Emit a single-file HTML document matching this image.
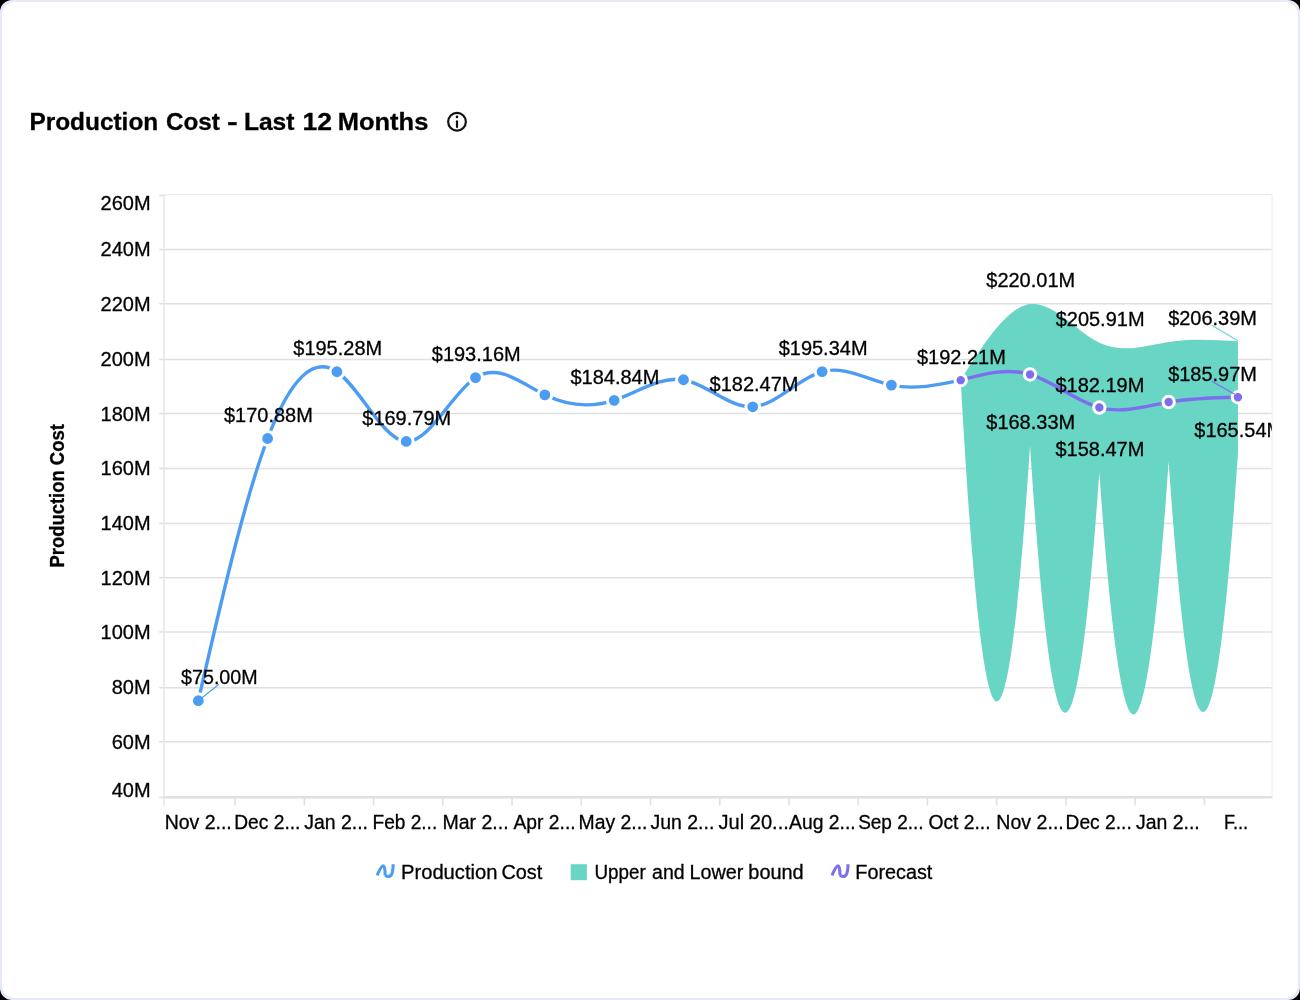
<!DOCTYPE html>
<html><head><meta charset="utf-8"><title>Production Cost - Last 12 Months</title>
<style>
html,body{margin:0;padding:0;background:#000;}
body{width:1300px;height:1000px;overflow:hidden;font-family:"Liberation Sans",sans-serif;}
.card{position:absolute;left:0;top:0;width:1300px;height:1000px;border-radius:12px;background:#e6e9f8;}
.inner{position:absolute;left:2px;top:2px;width:1296px;height:996px;border-radius:13px;background:#fff;}
svg{position:absolute;left:0;top:0;will-change:transform;}
text{font-family:"Liberation Sans",sans-serif;fill:#000;stroke:#000;stroke-width:0.3px;}
</style></head><body>
<div class="card"><div class="inner"></div></div>
<svg width="1300" height="1000" viewBox="0 0 1300 1000">

<text x="29.41" y="130.40" font-size="24.3" textLength="128.81" lengthAdjust="spacingAndGlyphs" font-weight="bold">Production</text>
<text x="165.93" y="130.40" font-size="24.3" textLength="53.87" lengthAdjust="spacingAndGlyphs" font-weight="bold">Cost</text>
<text x="227.01" y="130.40" font-size="24.3" textLength="10.71" lengthAdjust="spacingAndGlyphs" font-weight="bold">-</text>
<text x="243.90" y="130.40" font-size="24.3" textLength="50.57" lengthAdjust="spacingAndGlyphs" font-weight="bold">Last</text>
<text x="302.47" y="130.40" font-size="24.3" textLength="29.55" lengthAdjust="spacingAndGlyphs" font-weight="bold">12</text>
<text x="337.74" y="130.40" font-size="24.3" textLength="90.57" lengthAdjust="spacingAndGlyphs" font-weight="bold">Months</text>
<circle cx="457" cy="121.8" r="8.85" fill="none" stroke="#111" stroke-width="2.2"/>
<circle cx="457" cy="116.9" r="1.3" fill="#111"/><line x1="457" y1="121.3" x2="457" y2="127.1" stroke="#111" stroke-width="2.2" stroke-linecap="round"/>
<line x1="164.00" y1="194.56" x2="1272.10" y2="194.56" stroke="#e9e9e9" stroke-width="1.3"/>
<line x1="164.00" y1="249.60" x2="1272.10" y2="249.60" stroke="#e0e0e0" stroke-width="1.5"/>
<line x1="164.00" y1="303.70" x2="1272.10" y2="303.70" stroke="#e0e0e0" stroke-width="1.5"/>
<line x1="164.00" y1="359.45" x2="1272.10" y2="359.45" stroke="#e0e0e0" stroke-width="1.5"/>
<line x1="164.00" y1="413.60" x2="1272.10" y2="413.60" stroke="#e0e0e0" stroke-width="1.5"/>
<line x1="164.00" y1="468.40" x2="1272.10" y2="468.40" stroke="#e0e0e0" stroke-width="1.5"/>
<line x1="164.00" y1="523.40" x2="1272.10" y2="523.40" stroke="#e0e0e0" stroke-width="1.5"/>
<line x1="164.00" y1="577.70" x2="1272.10" y2="577.70" stroke="#e0e0e0" stroke-width="1.5"/>
<line x1="164.00" y1="631.90" x2="1272.10" y2="631.90" stroke="#e0e0e0" stroke-width="1.5"/>
<line x1="164.00" y1="687.70" x2="1272.10" y2="687.70" stroke="#e0e0e0" stroke-width="1.5"/>
<line x1="164.00" y1="741.70" x2="1272.10" y2="741.70" stroke="#e0e0e0" stroke-width="1.5"/>
<line x1="164.00" y1="796.85" x2="1272.10" y2="796.85" stroke="#e0e0e0" stroke-width="1.5"/>
<line x1="159.20" y1="195.46" x2="164.00" y2="195.46" stroke="#e0e0e0" stroke-width="1.6"/>
<line x1="159.20" y1="249.60" x2="164.00" y2="249.60" stroke="#e0e0e0" stroke-width="1.6"/>
<line x1="159.20" y1="303.70" x2="164.00" y2="303.70" stroke="#e0e0e0" stroke-width="1.6"/>
<line x1="159.20" y1="359.45" x2="164.00" y2="359.45" stroke="#e0e0e0" stroke-width="1.6"/>
<line x1="159.20" y1="413.60" x2="164.00" y2="413.60" stroke="#e0e0e0" stroke-width="1.6"/>
<line x1="159.20" y1="468.40" x2="164.00" y2="468.40" stroke="#e0e0e0" stroke-width="1.6"/>
<line x1="159.20" y1="523.40" x2="164.00" y2="523.40" stroke="#e0e0e0" stroke-width="1.6"/>
<line x1="159.20" y1="577.70" x2="164.00" y2="577.70" stroke="#e0e0e0" stroke-width="1.6"/>
<line x1="159.20" y1="631.90" x2="164.00" y2="631.90" stroke="#e0e0e0" stroke-width="1.6"/>
<line x1="159.20" y1="687.70" x2="164.00" y2="687.70" stroke="#e0e0e0" stroke-width="1.6"/>
<line x1="159.20" y1="741.70" x2="164.00" y2="741.70" stroke="#e0e0e0" stroke-width="1.6"/>
<line x1="159.20" y1="797.40" x2="164.00" y2="797.40" stroke="#e0e0e0" stroke-width="1.6"/>
<line x1="164.0" y1="193.96" x2="164.0" y2="805.4" stroke="#e6e6e6" stroke-width="1.5"/>
<line x1="1272.1" y1="194.56" x2="1272.1" y2="797.0" stroke="#efefef" stroke-width="1.2"/>
<line x1="164.0" y1="797.8" x2="1272.6" y2="797.8" stroke="#e0e0e0" stroke-width="1.6"/>
<line x1="235.13" y1="797.0" x2="235.13" y2="805.4" stroke="#e0e0e0" stroke-width="1.6"/>
<line x1="304.36" y1="797.0" x2="304.36" y2="805.4" stroke="#e0e0e0" stroke-width="1.6"/>
<line x1="373.59" y1="797.0" x2="373.59" y2="805.4" stroke="#e0e0e0" stroke-width="1.6"/>
<line x1="442.82" y1="797.0" x2="442.82" y2="805.4" stroke="#e0e0e0" stroke-width="1.6"/>
<line x1="512.05" y1="797.0" x2="512.05" y2="805.4" stroke="#e0e0e0" stroke-width="1.6"/>
<line x1="581.28" y1="797.0" x2="581.28" y2="805.4" stroke="#e0e0e0" stroke-width="1.6"/>
<line x1="650.51" y1="797.0" x2="650.51" y2="805.4" stroke="#e0e0e0" stroke-width="1.6"/>
<line x1="719.74" y1="797.0" x2="719.74" y2="805.4" stroke="#e0e0e0" stroke-width="1.6"/>
<line x1="788.97" y1="797.0" x2="788.97" y2="805.4" stroke="#e0e0e0" stroke-width="1.6"/>
<line x1="858.20" y1="797.0" x2="858.20" y2="805.4" stroke="#e0e0e0" stroke-width="1.6"/>
<line x1="927.43" y1="797.0" x2="927.43" y2="805.4" stroke="#e0e0e0" stroke-width="1.6"/>
<line x1="996.66" y1="797.0" x2="996.66" y2="805.4" stroke="#e0e0e0" stroke-width="1.6"/>
<line x1="1065.89" y1="797.0" x2="1065.89" y2="805.4" stroke="#e0e0e0" stroke-width="1.6"/>
<line x1="1135.12" y1="797.0" x2="1135.12" y2="805.4" stroke="#e0e0e0" stroke-width="1.6"/>
<line x1="1204.35" y1="797.0" x2="1204.35" y2="805.4" stroke="#e0e0e0" stroke-width="1.6"/>
<text x="100.60" y="209.50" font-size="20.0" textLength="50.03" lengthAdjust="spacingAndGlyphs">260M</text>
<text x="100.60" y="256.45" font-size="20.0" textLength="50.03" lengthAdjust="spacingAndGlyphs">240M</text>
<text x="100.60" y="311.15" font-size="20.0" textLength="50.03" lengthAdjust="spacingAndGlyphs">220M</text>
<text x="100.60" y="365.85" font-size="20.0" textLength="50.03" lengthAdjust="spacingAndGlyphs">200M</text>
<text x="100.60" y="420.55" font-size="20.0" textLength="50.03" lengthAdjust="spacingAndGlyphs">180M</text>
<text x="100.60" y="475.25" font-size="20.0" textLength="50.03" lengthAdjust="spacingAndGlyphs">160M</text>
<text x="100.60" y="529.95" font-size="20.0" textLength="50.03" lengthAdjust="spacingAndGlyphs">140M</text>
<text x="100.60" y="584.65" font-size="20.0" textLength="50.03" lengthAdjust="spacingAndGlyphs">120M</text>
<text x="100.60" y="639.35" font-size="20.0" textLength="50.03" lengthAdjust="spacingAndGlyphs">100M</text>
<text x="111.70" y="694.05" font-size="20.0" textLength="38.91" lengthAdjust="spacingAndGlyphs">80M</text>
<text x="111.70" y="748.75" font-size="20.0" textLength="38.91" lengthAdjust="spacingAndGlyphs">60M</text>
<text x="111.70" y="796.90" font-size="20.0" textLength="38.91" lengthAdjust="spacingAndGlyphs">40M</text>
<text transform="translate(64,567.60) rotate(-90)" font-size="19.4" font-weight="bold" textLength="143.43" lengthAdjust="spacingAndGlyphs">Production Cost</text>
<text x="164.64" y="828.50" font-size="20.0" textLength="67.13" lengthAdjust="spacingAndGlyphs">Nov 2...</text>
<text x="234.26" y="828.50" font-size="20.0" textLength="66.18" lengthAdjust="spacingAndGlyphs">Dec 2...</text>
<text x="304.21" y="828.50" font-size="20.0" textLength="63.84" lengthAdjust="spacingAndGlyphs">Jan 2...</text>
<text x="372.57" y="828.50" font-size="20.0" textLength="64.65" lengthAdjust="spacingAndGlyphs">Feb 2...</text>
<text x="442.44" y="828.50" font-size="20.0" textLength="66.21" lengthAdjust="spacingAndGlyphs">Mar 2...</text>
<text x="513.50" y="828.50" font-size="20.0" textLength="62.10" lengthAdjust="spacingAndGlyphs">Apr 2...</text>
<text x="578.55" y="828.50" font-size="20.0" textLength="68.93" lengthAdjust="spacingAndGlyphs">May 2...</text>
<text x="650.51" y="828.50" font-size="20.0" textLength="63.84" lengthAdjust="spacingAndGlyphs">Jun 2...</text>
<text x="718.60" y="828.50" font-size="20.0" textLength="70.25" lengthAdjust="spacingAndGlyphs">Jul 20...</text>
<text x="789.10" y="828.50" font-size="20.0" textLength="66.57" lengthAdjust="spacingAndGlyphs">Aug 2...</text>
<text x="858.14" y="828.50" font-size="20.0" textLength="65.50" lengthAdjust="spacingAndGlyphs">Sep 2...</text>
<text x="928.43" y="828.50" font-size="20.0" textLength="62.17" lengthAdjust="spacingAndGlyphs">Oct 2...</text>
<text x="996.33" y="828.50" font-size="20.0" textLength="67.44" lengthAdjust="spacingAndGlyphs">Nov 2...</text>
<text x="1065.56" y="828.50" font-size="20.0" textLength="66.18" lengthAdjust="spacingAndGlyphs">Dec 2...</text>
<text x="1135.91" y="828.50" font-size="20.0" textLength="63.84" lengthAdjust="spacingAndGlyphs">Jan 2...</text>
<text x="1223.95" y="828.50" font-size="20.0" textLength="24.15" lengthAdjust="spacingAndGlyphs">F...</text>
<path d="M960.71,380.16 C983.81 343.64 1006.92 307.13 1030.02 304.12 C1053.12 301.12 1076.23 331.63 1099.33 342.69 C1122.43 353.74 1145.54 345.35 1168.64 341.89 C1191.74 338.43 1214.85 339.90 1237.95 341.37 L1237.95,453.10 C1214.85,797.05 1191.74,797.05 1168.64,461.14 C1145.54,797.05 1122.43,797.05 1099.33,472.43 C1076.23,797.05 1053.12,797.05 1030.02,445.47 C1006.92,797.05 983.81,797.05 960.71,380.16 Z" fill="#69d5c5"/>
<path d="M198.30,700.72 C221.40 600.12 244.51 499.51 267.61 438.49 C290.71 377.48 313.82 356.07 336.92 371.76 C360.02 387.45 383.13 440.25 406.23 441.47 C429.33 442.70 452.44 392.35 475.54 377.56 C498.64 362.77 521.75 383.54 544.85 394.82 C567.95 406.09 591.06 407.86 614.16 400.31 C637.26 392.77 660.37 375.91 683.47 379.77 C706.57 383.64 729.68 408.23 752.78 406.79 C775.88 405.36 798.99 377.90 822.09 371.60 C845.19 365.29 868.30 380.15 891.40 385.11 C914.50 390.06 937.61 385.11 960.71 380.16" fill="none" stroke="#4b9cf2" stroke-width="3.4"/>
<path d="M960.71,380.16 C983.81 373.86 1006.92 367.56 1030.02 374.44 C1053.12 381.32 1076.23 401.37 1099.33 407.56 C1122.43 413.76 1145.54 406.10 1168.64 402.06 C1191.74 398.03 1214.85 397.63 1237.95 397.22" fill="none" stroke="#7b6ff0" stroke-width="3.4"/>
<circle cx="198.30" cy="700.72" r="6.9" fill="#4b9cf2" stroke="#fff" stroke-width="3"/>
<circle cx="267.61" cy="438.49" r="6.9" fill="#4b9cf2" stroke="#fff" stroke-width="3"/>
<circle cx="336.92" cy="371.76" r="6.9" fill="#4b9cf2" stroke="#fff" stroke-width="3"/>
<circle cx="406.23" cy="441.47" r="6.9" fill="#4b9cf2" stroke="#fff" stroke-width="3"/>
<circle cx="475.54" cy="377.56" r="6.9" fill="#4b9cf2" stroke="#fff" stroke-width="3"/>
<circle cx="544.85" cy="394.82" r="6.9" fill="#4b9cf2" stroke="#fff" stroke-width="3"/>
<circle cx="614.16" cy="400.31" r="6.9" fill="#4b9cf2" stroke="#fff" stroke-width="3"/>
<circle cx="683.47" cy="379.77" r="6.9" fill="#4b9cf2" stroke="#fff" stroke-width="3"/>
<circle cx="752.78" cy="406.79" r="6.9" fill="#4b9cf2" stroke="#fff" stroke-width="3"/>
<circle cx="822.09" cy="371.60" r="6.9" fill="#4b9cf2" stroke="#fff" stroke-width="3"/>
<circle cx="891.40" cy="385.11" r="6.9" fill="#4b9cf2" stroke="#fff" stroke-width="3"/>
<circle cx="960.71" cy="380.16" r="5.7" fill="#7b6ff0" stroke="#fff" stroke-width="3"/>
<circle cx="1030.02" cy="374.44" r="5.7" fill="#7b6ff0" stroke="#fff" stroke-width="3"/>
<circle cx="1099.33" cy="407.56" r="5.7" fill="#7b6ff0" stroke="#fff" stroke-width="3"/>
<circle cx="1168.64" cy="402.06" r="5.7" fill="#7b6ff0" stroke="#fff" stroke-width="3"/>
<circle cx="1237.95" cy="397.22" r="5.7" fill="#7b6ff0" stroke="#fff" stroke-width="3"/>
<text x="181.05" y="684.30" font-size="20.0" textLength="76.60" lengthAdjust="spacingAndGlyphs">$75.00M</text>
<text x="224.00" y="421.60" font-size="20.0" textLength="88.85" lengthAdjust="spacingAndGlyphs">$170.88M</text>
<text x="293.30" y="355.40" font-size="20.0" textLength="88.85" lengthAdjust="spacingAndGlyphs">$195.28M</text>
<text x="362.30" y="425.40" font-size="20.0" textLength="88.85" lengthAdjust="spacingAndGlyphs">$169.79M</text>
<text x="431.80" y="361.40" font-size="20.0" textLength="88.85" lengthAdjust="spacingAndGlyphs">$193.16M</text>
<text x="570.50" y="384.40" font-size="20.0" textLength="88.85" lengthAdjust="spacingAndGlyphs">$184.84M</text>
<text x="709.60" y="390.90" font-size="20.0" textLength="88.85" lengthAdjust="spacingAndGlyphs">$182.47M</text>
<text x="778.70" y="355.40" font-size="20.0" textLength="88.85" lengthAdjust="spacingAndGlyphs">$195.34M</text>
<text x="916.95" y="363.90" font-size="20.0" textLength="88.85" lengthAdjust="spacingAndGlyphs">$192.21M</text>
<text x="986.30" y="287.20" font-size="20.0" textLength="88.85" lengthAdjust="spacingAndGlyphs">$220.01M</text>
<text x="1055.70" y="325.80" font-size="20.0" textLength="88.85" lengthAdjust="spacingAndGlyphs">$205.91M</text>
<text x="1168.15" y="324.80" font-size="20.0" textLength="88.85" lengthAdjust="spacingAndGlyphs">$206.39M</text>
<text x="1055.50" y="391.60" font-size="20.0" textLength="88.85" lengthAdjust="spacingAndGlyphs">$182.19M</text>
<text x="1168.15" y="380.60" font-size="20.0" textLength="88.85" lengthAdjust="spacingAndGlyphs">$185.97M</text>
<text x="986.30" y="429.00" font-size="20.0" textLength="88.85" lengthAdjust="spacingAndGlyphs">$168.33M</text>
<text x="1055.50" y="456.20" font-size="20.0" textLength="88.85" lengthAdjust="spacingAndGlyphs">$158.47M</text>
<clipPath id="cp"><rect x="0" y="0" width="1271.8" height="1000"/></clipPath>
<g clip-path="url(#cp)">
<text x="1194.30" y="436.70" font-size="20.0" textLength="88.85" lengthAdjust="spacingAndGlyphs">$165.54M</text>
</g>
<line x1="219" y1="684.2" x2="198.30" y2="700.72" stroke="#4b9cf2" stroke-width="1.1"/>
<line x1="1211.8" y1="325.2" x2="1237.8" y2="340.8" stroke="#69d5c5" stroke-width="1.1"/>
<line x1="1211.8" y1="381.2" x2="1234.8" y2="394.3" stroke="#7b6ff0" stroke-width="1.1"/>
<path d="M377.15,875.40 Q385.15,856.20 385.15,875.40 M385.15,875.40 Q393.15,880.20 393.15,864.20" fill="none" stroke="#4b9cf2" stroke-width="3.1"/>
<text x="400.98" y="878.80" font-size="20.0" textLength="96.54" lengthAdjust="spacingAndGlyphs">Production</text>
<text x="501.41" y="878.80" font-size="20.0" textLength="40.82" lengthAdjust="spacingAndGlyphs">Cost</text>
<rect x="570.7" y="864.2" width="16.2" height="16" fill="#69d5c5"/>
<text x="594.49" y="878.80" font-size="20.0" textLength="51.27" lengthAdjust="spacingAndGlyphs">Upper</text>
<text x="652.07" y="878.80" font-size="20.0" textLength="32.57" lengthAdjust="spacingAndGlyphs">and</text>
<text x="689.62" y="878.80" font-size="20.0" textLength="53.85" lengthAdjust="spacingAndGlyphs">Lower</text>
<text x="748.30" y="878.80" font-size="20.0" textLength="55.41" lengthAdjust="spacingAndGlyphs">bound</text>
<path d="M832.00,875.40 Q840.00,856.20 840.00,875.40 M840.00,875.40 Q848.00,880.20 848.00,864.20" fill="none" stroke="#7b6ff0" stroke-width="3.1"/>
<text x="855.31" y="878.80" font-size="20.0" textLength="77.09" lengthAdjust="spacingAndGlyphs">Forecast</text>
</svg></body></html>
